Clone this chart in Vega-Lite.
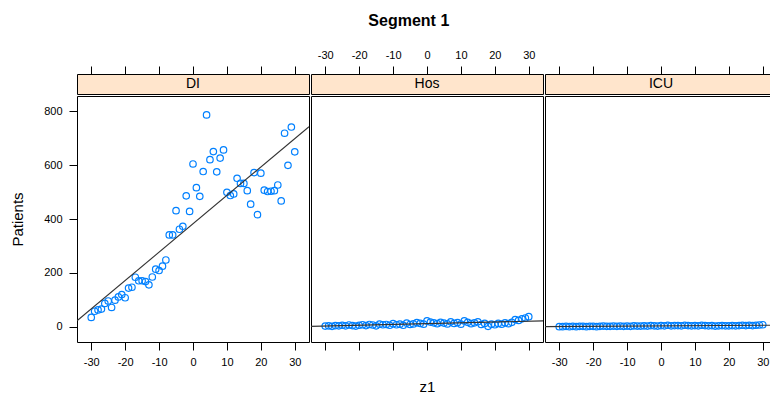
{
  "$schema": "https://vega.github.io/schema/vega-lite/v6.json",
  "background": "white",
  "padding": {"left": 10, "top": 12, "right": 0, "bottom": 0},
  "title": {"text": "Segment 1", "fontSize": 16, "fontWeight": "bold", "font": "Liberation Sans", "color": "black", "offset": 20, "anchor": "middle", "dx": 15},
  "config": {
    "view": {"stroke": "black", "strokeWidth": 1},
    "axis": {"labelFont": "Liberation Sans", "titleFont": "Liberation Sans", "labelFontSize": 11, "labelColor": "black", "tickColor": "black", "domain": false, "grid": false, "tickSize": 8, "labelPadding": 6, "labelOverlap": false, "labelExpr": "toString(datum.value)", "titleFontWeight": "normal", "titleColor": "black"}
  },
  "data": {"values": [
    {"panel":"DI","z1":-30,"Patients":35},{"panel":"DI","z1":-29,"Patients":58},{"panel":"DI","z1":-28,"Patients":63},{"panel":"DI","z1":-27,"Patients":66},{"panel":"DI","z1":-26,"Patients":87},{"panel":"DI","z1":-25,"Patients":96},{"panel":"DI","z1":-24,"Patients":72},{"panel":"DI","z1":-23,"Patients":99},{"panel":"DI","z1":-22,"Patients":111},{"panel":"DI","z1":-21,"Patients":120},
    {"panel":"DI","z1":-20,"Patients":108},{"panel":"DI","z1":-19,"Patients":144},{"panel":"DI","z1":-18,"Patients":147},{"panel":"DI","z1":-17,"Patients":184},{"panel":"DI","z1":-16,"Patients":171},{"panel":"DI","z1":-15,"Patients":171},{"panel":"DI","z1":-14,"Patients":168},{"panel":"DI","z1":-13,"Patients":156},{"panel":"DI","z1":-12,"Patients":185},{"panel":"DI","z1":-11,"Patients":214},
    {"panel":"DI","z1":-10,"Patients":209},{"panel":"DI","z1":-9,"Patients":225},{"panel":"DI","z1":-8,"Patients":248},{"panel":"DI","z1":-7,"Patients":341},{"panel":"DI","z1":-6,"Patients":341},{"panel":"DI","z1":-5,"Patients":431},{"panel":"DI","z1":-4,"Patients":362},{"panel":"DI","z1":-3,"Patients":373},{"panel":"DI","z1":-2,"Patients":486},{"panel":"DI","z1":-1,"Patients":428},
    {"panel":"DI","z1":0,"Patients":604},{"panel":"DI","z1":1,"Patients":516},{"panel":"DI","z1":2,"Patients":484},{"panel":"DI","z1":3,"Patients":576},{"panel":"DI","z1":4,"Patients":786},{"panel":"DI","z1":5,"Patients":620},{"panel":"DI","z1":6,"Patients":650},{"panel":"DI","z1":7,"Patients":575},{"panel":"DI","z1":8,"Patients":626},{"panel":"DI","z1":9,"Patients":656},
    {"panel":"DI","z1":10,"Patients":499},{"panel":"DI","z1":11,"Patients":487},{"panel":"DI","z1":12,"Patients":493},{"panel":"DI","z1":13,"Patients":551},{"panel":"DI","z1":14,"Patients":532},{"panel":"DI","z1":15,"Patients":532},{"panel":"DI","z1":16,"Patients":505},{"panel":"DI","z1":17,"Patients":455},{"panel":"DI","z1":18,"Patients":572},{"panel":"DI","z1":19,"Patients":416},
    {"panel":"DI","z1":20,"Patients":570},{"panel":"DI","z1":21,"Patients":507},{"panel":"DI","z1":22,"Patients":502},{"panel":"DI","z1":23,"Patients":503},{"panel":"DI","z1":24,"Patients":505},{"panel":"DI","z1":25,"Patients":526},{"panel":"DI","z1":26,"Patients":467},{"panel":"DI","z1":27,"Patients":718},{"panel":"DI","z1":28,"Patients":599},{"panel":"DI","z1":29,"Patients":741},{"panel":"DI","z1":30,"Patients":649},
    {"panel":"Hos","z1":-30,"Patients":3},{"panel":"Hos","z1":-29,"Patients":4},{"panel":"Hos","z1":-28,"Patients":2},{"panel":"Hos","z1":-27,"Patients":5},{"panel":"Hos","z1":-26,"Patients":4},{"panel":"Hos","z1":-25,"Patients":6},{"panel":"Hos","z1":-24,"Patients":4},{"panel":"Hos","z1":-23,"Patients":7},{"panel":"Hos","z1":-22,"Patients":5},{"panel":"Hos","z1":-21,"Patients":3},
    {"panel":"Hos","z1":-20,"Patients":6},{"panel":"Hos","z1":-19,"Patients":8},{"panel":"Hos","z1":-18,"Patients":5},{"panel":"Hos","z1":-17,"Patients":9},{"panel":"Hos","z1":-16,"Patients":7},{"panel":"Hos","z1":-15,"Patients":4},{"panel":"Hos","z1":-14,"Patients":10},{"panel":"Hos","z1":-13,"Patients":8},{"panel":"Hos","z1":-12,"Patients":9},{"panel":"Hos","z1":-11,"Patients":6},
    {"panel":"Hos","z1":-10,"Patients":12},{"panel":"Hos","z1":-9,"Patients":8},{"panel":"Hos","z1":-8,"Patients":10},{"panel":"Hos","z1":-7,"Patients":6},{"panel":"Hos","z1":-6,"Patients":14},{"panel":"Hos","z1":-5,"Patients":9},{"panel":"Hos","z1":-4,"Patients":11},{"panel":"Hos","z1":-3,"Patients":16},{"panel":"Hos","z1":-2,"Patients":13},{"panel":"Hos","z1":-1,"Patients":10},
    {"panel":"Hos","z1":0,"Patients":22},{"panel":"Hos","z1":1,"Patients":18},{"panel":"Hos","z1":2,"Patients":15},{"panel":"Hos","z1":3,"Patients":12},{"panel":"Hos","z1":4,"Patients":17},{"panel":"Hos","z1":5,"Patients":14},{"panel":"Hos","z1":6,"Patients":11},{"panel":"Hos","z1":7,"Patients":19},{"panel":"Hos","z1":8,"Patients":13},{"panel":"Hos","z1":9,"Patients":16},
    {"panel":"Hos","z1":10,"Patients":10},{"panel":"Hos","z1":11,"Patients":22},{"panel":"Hos","z1":12,"Patients":17},{"panel":"Hos","z1":13,"Patients":12},{"panel":"Hos","z1":14,"Patients":15},{"panel":"Hos","z1":15,"Patients":19},{"panel":"Hos","z1":16,"Patients":9},{"panel":"Hos","z1":17,"Patients":13},{"panel":"Hos","z1":18,"Patients":2},{"panel":"Hos","z1":19,"Patients":10},
    {"panel":"Hos","z1":20,"Patients":8},{"panel":"Hos","z1":21,"Patients":13},{"panel":"Hos","z1":22,"Patients":10},{"panel":"Hos","z1":23,"Patients":15},{"panel":"Hos","z1":24,"Patients":12},{"panel":"Hos","z1":25,"Patients":17},{"panel":"Hos","z1":26,"Patients":27},{"panel":"Hos","z1":27,"Patients":24},{"panel":"Hos","z1":28,"Patients":30},{"panel":"Hos","z1":29,"Patients":33},{"panel":"Hos","z1":30,"Patients":38},
    {"panel":"ICU","z1":-30,"Patients":1},{"panel":"ICU","z1":-29,"Patients":1},{"panel":"ICU","z1":-28,"Patients":2},{"panel":"ICU","z1":-27,"Patients":1},{"panel":"ICU","z1":-26,"Patients":2},{"panel":"ICU","z1":-25,"Patients":1},{"panel":"ICU","z1":-24,"Patients":2},{"panel":"ICU","z1":-23,"Patients":2},{"panel":"ICU","z1":-22,"Patients":1},{"panel":"ICU","z1":-21,"Patients":2},
    {"panel":"ICU","z1":-20,"Patients":2},{"panel":"ICU","z1":-19,"Patients":1},{"panel":"ICU","z1":-18,"Patients":2},{"panel":"ICU","z1":-17,"Patients":3},{"panel":"ICU","z1":-16,"Patients":2},{"panel":"ICU","z1":-15,"Patients":2},{"panel":"ICU","z1":-14,"Patients":3},{"panel":"ICU","z1":-13,"Patients":2},{"panel":"ICU","z1":-12,"Patients":3},{"panel":"ICU","z1":-11,"Patients":2},
    {"panel":"ICU","z1":-10,"Patients":3},{"panel":"ICU","z1":-9,"Patients":2},{"panel":"ICU","z1":-8,"Patients":4},{"panel":"ICU","z1":-7,"Patients":3},{"panel":"ICU","z1":-6,"Patients":3},{"panel":"ICU","z1":-5,"Patients":4},{"panel":"ICU","z1":-4,"Patients":3},{"panel":"ICU","z1":-3,"Patients":5},{"panel":"ICU","z1":-2,"Patients":4},{"panel":"ICU","z1":-1,"Patients":3},
    {"panel":"ICU","z1":0,"Patients":5},{"panel":"ICU","z1":1,"Patients":4},{"panel":"ICU","z1":2,"Patients":6},{"panel":"ICU","z1":3,"Patients":4},{"panel":"ICU","z1":4,"Patients":5},{"panel":"ICU","z1":5,"Patients":5},{"panel":"ICU","z1":6,"Patients":4},{"panel":"ICU","z1":7,"Patients":6},{"panel":"ICU","z1":8,"Patients":5},{"panel":"ICU","z1":9,"Patients":4},
    {"panel":"ICU","z1":10,"Patients":5},{"panel":"ICU","z1":11,"Patients":4},{"panel":"ICU","z1":12,"Patients":6},{"panel":"ICU","z1":13,"Patients":5},{"panel":"ICU","z1":14,"Patients":4},{"panel":"ICU","z1":15,"Patients":5},{"panel":"ICU","z1":16,"Patients":3},{"panel":"ICU","z1":17,"Patients":4},{"panel":"ICU","z1":18,"Patients":5},{"panel":"ICU","z1":19,"Patients":4},
    {"panel":"ICU","z1":20,"Patients":4},{"panel":"ICU","z1":21,"Patients":5},{"panel":"ICU","z1":22,"Patients":4},{"panel":"ICU","z1":23,"Patients":5},{"panel":"ICU","z1":24,"Patients":6},{"panel":"ICU","z1":25,"Patients":5},{"panel":"ICU","z1":26,"Patients":6},{"panel":"ICU","z1":27,"Patients":5},{"panel":"ICU","z1":28,"Patients":6},{"panel":"ICU","z1":29,"Patients":7},{"panel":"ICU","z1":30,"Patients":8}
  ]},
  "columns": 3,
  "spacing": 0,
  "concat": [
    {
      "width": 232, "height": 20,
      "view": {"fill": "#ffe5cc", "stroke": "black"},
      "transform": [{"filter": "datum.panel === 'DI'"}, {"aggregate": [{"op": "count", "as": "n"}], "groupby": ["panel"]}],
      "mark": {"type": "text", "fontSize": 14, "font": "Liberation Sans", "color": "black"},
      "encoding": {
        "x": {"datum": 0, "type": "quantitative", "scale": {"domain": [-34.2, 34.2], "nice": false, "zero": false}, "axis": {"orient": "top", "values": [-30, -20, -10, 0, 10, 20, 30], "labels": false, "title": null}},
        "text": {"field": "panel"}
      }
    },
    {
      "width": 232, "height": 20,
      "view": {"fill": "#ffe5cc", "stroke": "black"},
      "transform": [{"filter": "datum.panel === 'Hos'"}, {"aggregate": [{"op": "count", "as": "n"}], "groupby": ["panel"]}],
      "mark": {"type": "text", "fontSize": 14, "font": "Liberation Sans", "color": "black"},
      "encoding": {
        "x": {"datum": 0, "type": "quantitative", "scale": {"domain": [-34.2, 34.2], "nice": false, "zero": false}, "axis": {"orient": "top", "values": [-30, -20, -10, 0, 10, 20, 30], "labels": true, "labelOverlap": false, "title": null}},
        "text": {"field": "panel"}
      }
    },
    {
      "width": 232, "height": 20,
      "view": {"fill": "#ffe5cc", "stroke": "black"},
      "transform": [{"filter": "datum.panel === 'ICU'"}, {"aggregate": [{"op": "count", "as": "n"}], "groupby": ["panel"]}],
      "mark": {"type": "text", "fontSize": 14, "font": "Liberation Sans", "color": "black"},
      "encoding": {
        "x": {"datum": 0, "type": "quantitative", "scale": {"domain": [-34.2, 34.2], "nice": false, "zero": false}, "axis": {"orient": "top", "values": [-30, -20, -10, 0, 10, 20, 30], "labels": false, "title": null}},
        "text": {"field": "panel"}
      }
    },
    {
      "width": 232, "height": 246,
      "transform": [{"filter": "datum.panel === 'DI'"}],
      "encoding": {
        "x": {"field": "z1", "type": "quantitative", "scale": {"domain": [-34.2, 34.2], "nice": false, "zero": false}, "axis": {"orient": "bottom", "values": [-30, -20, -10, 0, 10, 20, 30], "labels": true, "labelOverlap": false, "labelBound": false, "title": null}},
        "y": {"field": "Patients", "type": "quantitative", "scale": {"domain": [-56, 856], "nice": false, "zero": false}, "axis": {"orient": "left", "values": [0, 200, 400, 600, 800], "labelOverlap": false, "title": "Patients", "titleFontSize": 15, "titlePadding": 18, "labelPadding": 7}}
      },
      "layer": [
        {"mark": {"type": "point", "shape": "circle", "filled": false, "color": "#0080ff", "size": 42, "strokeWidth": 1.2, "opacity": 1}},
        {
          "transform": [{"regression": "Patients", "on": "z1", "extent": [-34.2, 34.2]}],
          "mark": {"type": "line", "color": "#333333", "strokeWidth": 1.1, "clip": true}
        }
      ]
    },
    {
      "width": 232, "height": 246,
      "transform": [{"filter": "datum.panel === 'Hos'"}],
      "encoding": {
        "x": {"field": "z1", "type": "quantitative", "scale": {"domain": [-34.2, 34.2], "nice": false, "zero": false}, "axis": {"orient": "bottom", "values": [-30, -20, -10, 0, 10, 20, 30], "labels": false, "title": "z1", "titleFontSize": 15, "titlePadding": 29}},
        "y": {"field": "Patients", "type": "quantitative", "scale": {"domain": [-56, 856], "nice": false, "zero": false}, "axis": null}
      },
      "layer": [
        {"mark": {"type": "point", "shape": "circle", "filled": false, "color": "#0080ff", "size": 42, "strokeWidth": 1.2, "opacity": 1}},
        {
          "transform": [{"regression": "Patients", "on": "z1", "extent": [-34.2, 34.2]}],
          "mark": {"type": "line", "color": "#333333", "strokeWidth": 1.1, "clip": true}
        }
      ]
    },
    {
      "width": 232, "height": 246,
      "transform": [{"filter": "datum.panel === 'ICU'"}],
      "encoding": {
        "x": {"field": "z1", "type": "quantitative", "scale": {"domain": [-34.2, 34.2], "nice": false, "zero": false}, "axis": {"orient": "bottom", "values": [-30, -20, -10, 0, 10, 20, 30], "labels": true, "labelOverlap": false, "labelBound": false, "title": null}},
        "y": {"field": "Patients", "type": "quantitative", "scale": {"domain": [-56, 856], "nice": false, "zero": false}, "axis": null}
      },
      "layer": [
        {"mark": {"type": "point", "shape": "circle", "filled": false, "color": "#0080ff", "size": 42, "strokeWidth": 1.2, "opacity": 1}},
        {
          "transform": [{"regression": "Patients", "on": "z1", "extent": [-34.2, 34.2]}],
          "mark": {"type": "line", "color": "#333333", "strokeWidth": 1.1, "clip": true}
        }
      ]
    }
  ]
}
